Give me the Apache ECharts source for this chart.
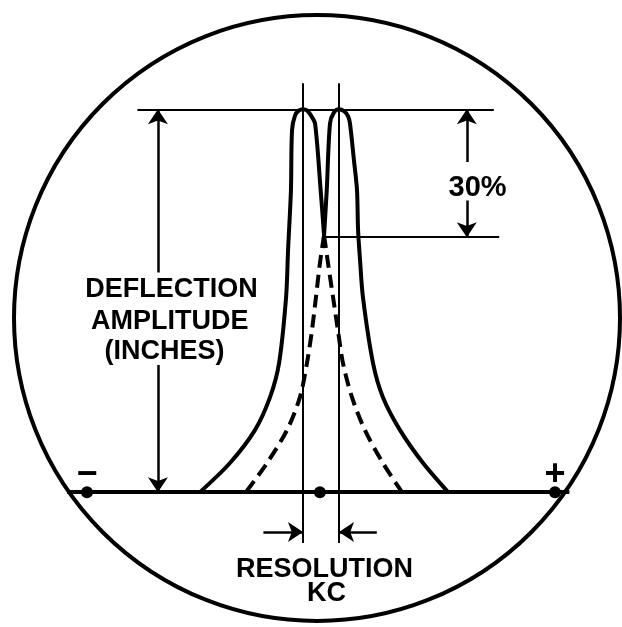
<!DOCTYPE html>
<html>
<head>
<meta charset="utf-8">
<title>Resolution</title>
<script src="https://cdn.jsdelivr.net/npm/echarts@6/dist/echarts.min.js"></script>
<style>
  html, body { margin: 0; padding: 0; background: #fff; }
  #chart { width: 622px; height: 627px; }
</style>
</head>
<body>
<div id="chart"></div>
<script>
// x = kc from the midpoint (peaks sit at -1 and +1), y = deflection in % of peak
var leftPeak = [[-6.72,0],[-5.06,7.6],[-3.67,16.2],[-2.83,24.8],[-2.33,33.7],[-1.94,50.9],[-1.83,63.2],[-1.67,78.9],[-1.61,94.5],[-1.44,98.4],[-1.22,99.7],[-1,100],[-0.78,99.7],[-0.56,98.4],[-0.33,96.3],[-0.02,78.9],[0.17,67.1]];
var rightPeak = [[0.17,67.1],[0.32,78.9],[0.5,96.3],[0.72,99.2],[1,100],[1.28,99.5],[1.5,98.2],[1.61,96.3],[1.83,86.7],[2,78.9],[2.06,68.4],[2.17,60.6],[2.33,50.9],[2.89,33.7],[3.44,24.8],[4.39,16.2],[5.67,7.6],[7.06,0]];
// dashed: each response continued under the other one
var dashLeft = [[0.17,67.1],[-0.06,59.8],[-0.28,50.9],[-0.5,42.3],[-0.78,33.7],[-1.17,24.8],[-1.89,16.2],[-3.0,7.6],[-4.17,0]];
var dashRight = [[0.17,67.1],[0.39,59.8],[0.67,50.9],[0.94,42.3],[1.22,33.7],[1.72,24.8],[2.44,16.2],[3.44,7.6],[4.5,0]];

var baseline = [[-14.1,0],[13.8,0]];
var baseDots = [[-13.0,0],[-0.06,0],[13.0,0]];
var peakLevel = 100, dipLevel = 66.6;
var peakMarks = [-1, 1];

// thin construction lines
var guideLines = [
  [[-10.2,peakLevel],[9.6,peakLevel]],
  [[peakMarks[0],106.8],[peakMarks[0],-13.3]],
  [[peakMarks[1],106.8],[peakMarks[1],-13.3]],
  [[0.2,dipLevel],[9.9,dipLevel]]
];
// dimension arrows, tip at the second point
var arrows = [
  [[-9.06,57.4],[-9.06,peakLevel]],
  [[-9.06,33.2],[-9.06,0]],
  [[8.1,86.2],[8.1,peakLevel]],
  [[8.1,76.2],[8.1,dipLevel]],
  [[-3.2,-10.4],[peakMarks[0],-10.4]],
  [[3.1,-10.4],[peakMarks[1],-10.4]]
];

var labelText = ['DEFLECTION','AMPLITUDE','(INCHES)','30%','RESOLUTION','KC','\u2212','+'];
var labelPos = [[-8.3,53],[-8.4,44.6],[-8.7,36.8],[8.7,79.4],[0.2,-20.1],[0.3,-26.6],[-13.0,4.4],[13.0,4.4]];
var labelSize = [27,27,27,29,27,27,36,36];

var chart = echarts.init(document.getElementById('chart'));

function segs(list) {
  return list.map(function (s) { return { coords: s }; });
}

chart.setOption({
  backgroundColor: '#fff',
  animation: false,
  grid: { left: 15, top: 71, width: 594, height: 536 },
  xAxis: { type: 'value', min: -17, max: 16, show: false },
  yAxis: { type: 'value', min: -30, max: 110, show: false },
  graphic: [{
    type: 'circle',
    shape: { cx: 317, cy: 318, r: 303 },
    style: { fill: 'none', stroke: '#000', lineWidth: 4 }
  }],
  series: [
    {
      type: 'line', data: leftPeak, smooth: 0.3, showSymbol: false,
      lineStyle: { color: '#000', width: 4 }
    },
    {
      type: 'line', data: rightPeak, smooth: 0.3, showSymbol: false,
      lineStyle: { color: '#000', width: 4 }
    },
    {
      type: 'line', data: dashLeft, smooth: 0.3, showSymbol: false,
      lineStyle: { color: '#000', width: 4, type: [13, 7] }
    },
    {
      type: 'line', data: dashRight, smooth: 0.3, showSymbol: false,
      lineStyle: { color: '#000', width: 4, type: [13, 7] }
    },
    {
      type: 'lines', coordinateSystem: 'cartesian2d',
      data: segs([baseline]),
      lineStyle: { color: '#000', width: 4, opacity: 1 }
    },
    {
      type: 'lines', coordinateSystem: 'cartesian2d',
      data: segs(guideLines),
      lineStyle: { color: '#000', width: 2, opacity: 1 }
    },
    {
      type: 'lines', coordinateSystem: 'cartesian2d',
      data: segs(arrows),
      symbol: ['none', 'arrow'], symbolSize: [9, 15],
      lineStyle: { color: '#000', width: 2.5, opacity: 1 }
    },
    {
      type: 'scatter', data: baseDots, symbolSize: 12,
      itemStyle: { color: '#000', opacity: 1 }
    },
    {
      type: 'scatter', symbolSize: 0,
      itemStyle: { opacity: 1 },
      data: labelText.map(function (t, i) {
        return {
          value: labelPos[i],
          label: {
            show: true, position: 'inside', formatter: t, opacity: 1,
            color: '#000', fontSize: labelSize[i], fontWeight: 'bold',
            fontFamily: 'Liberation Sans'
          }
        };
      })
    }
  ]
});
</script>
</body>
</html>
